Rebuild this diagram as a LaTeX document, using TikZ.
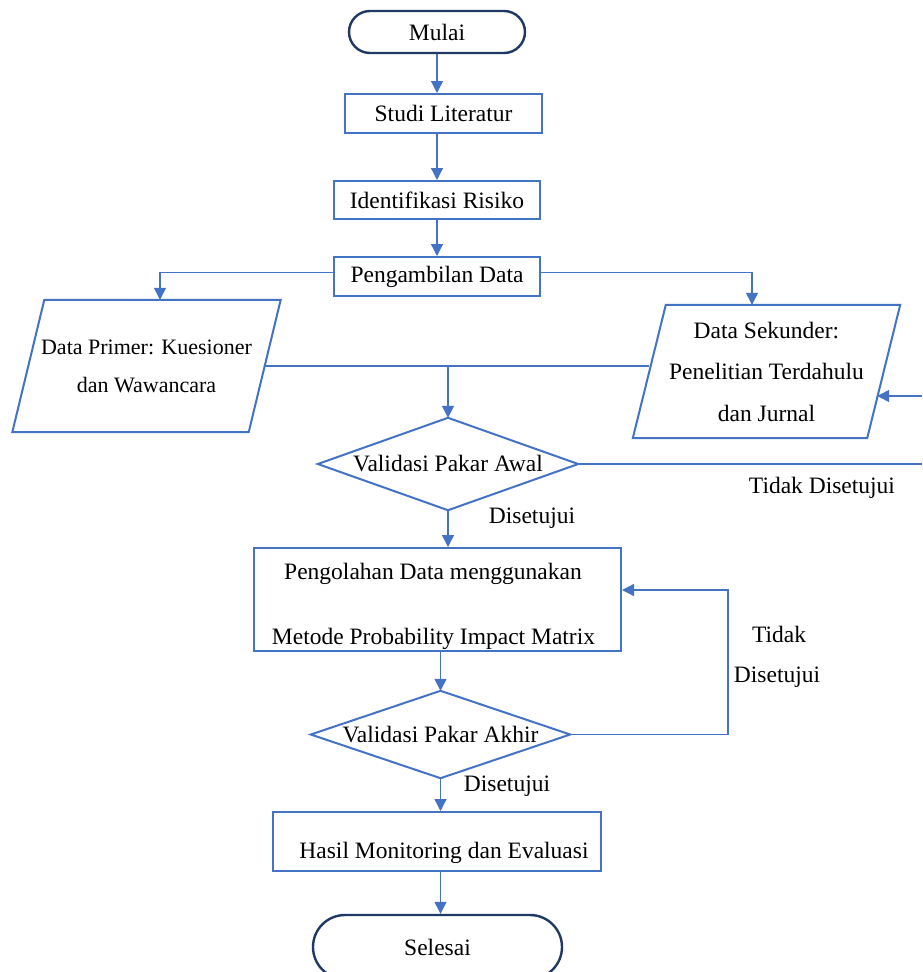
\documentclass[tikz,border=0pt]{standalone}
\usepackage{fontspec}
\setmainfont{Liberation Serif}
\usetikzlibrary{arrows.meta,calc}
\definecolor{lineblue}{HTML}{4472C4}
\definecolor{navy}{HTML}{203864}
\begin{document}
\begin{tikzpicture}[x=1pt,y=-1pt,
  every node/.style={font=\fontsize{23.5}{28}\selectfont, text=black, inner sep=0pt},
  procbox/.style={draw=lineblue, line width=2pt, rectangle},
  termbox/.style={draw=navy, line width=2.4pt, rectangle},
  hidden/.style={rectangle},
  shapeline/.style={draw=lineblue, line width=2pt, line join=miter},
  conn/.style={draw=lineblue, line width=1.3pt},
  arr/.style={conn, -{Triangle[length=12pt,width=12pt]}}]
\useasboundingbox (0,0) rectangle (922,972);
\fill[white] (0,0) rectangle (922,972);

% nodes
\node[termbox, rounded corners=21pt, minimum width=176pt, minimum height=42pt] (mulai) at (437,32) {Mulai};
\node[procbox, minimum width=197pt, minimum height=39pt] (studi) at (443.5,113.5) {Studi Literatur};
\node[procbox, minimum width=206pt, minimum height=38pt] (ident) at (437,200) {Identifikasi Risiko};
\node[procbox, minimum width=206pt, minimum height=39pt] (peng) at (437,276.5) {Pengambilan Data};

\node[hidden, minimum width=236pt, minimum height=132pt, align=center, font=\fontsize{22}{38}\selectfont] (dp) at (146.5,366) {Data Primer: Kuesioner\\dan Wawancara};
\draw[shapeline] ([xshift=16pt]dp.north west) -- ([xshift=16pt]dp.north east) -- ([xshift=-16pt]dp.south east) -- ([xshift=-16pt]dp.south west) -- cycle;

\node[hidden, minimum width=234pt, minimum height=133pt, align=center, font=\fontsize{23.5}{41.5}\selectfont] (ds) at (766.5,371.5) {Data Sekunder:\\Penelitian Terdahulu\\dan Jurnal};
\draw[shapeline] ([xshift=16.5pt]ds.north west) -- ([xshift=16.5pt]ds.north east) -- ([xshift=-16.5pt]ds.south east) -- ([xshift=-16.5pt]ds.south west) -- cycle;

\node[hidden, minimum width=260pt, minimum height=92pt] (v1) at (448,464) {Validasi Pakar Awal};
\draw[shapeline] (v1.north) -- (v1.east) -- (v1.south) -- (v1.west) -- cycle;

\node[procbox, minimum width=367pt, minimum height=103pt] (pd) at (437.5,599.5) {};
\node (pdt1) at (433,574) {Pengolahan Data menggunakan};
\node (pdt2) at (433.5,639) {Metode Probability Impact Matrix};

\node[hidden, minimum width=259pt, minimum height=87pt] (v2) at (440.5,734.5) {Validasi Pakar Akhir};
\draw[shapeline] (v2.north) -- (v2.east) -- (v2.south) -- (v2.west) -- cycle;

\node[procbox, minimum width=328pt, minimum height=59pt] (hasil) at (437,841.5) {};
\node (hasilt) at (444,853) {Hasil Monitoring dan Evaluasi};

\node[termbox, rounded corners=32pt, minimum width=249pt, minimum height=64pt] (sel) at (437.5,947) {Selesai};

% connectors
\draw[arr] (mulai.south) -- (mulai.south |- studi.north);
\draw[arr] (ident.north |- studi.south) -- (ident.north);
\draw[arr] (ident.south) -- (peng.north);
\draw[arr] ([yshift=4pt]peng.west) -| ([xshift=13.5pt]dp.north);
\draw[arr] ([yshift=4pt]peng.east) -| ([xshift=-14.5pt]ds.north);
\draw[conn] (dp.east) -- (dp.east -| ds.west);
\draw[arr] (v1.north |- dp.east) -- (v1.north);
\coordinate (edgea) at (922,464);
\draw[conn] (v1.east) -- (edgea);
\coordinate (edgeb) at (922,396);
\draw[arr] (edgeb) -- ([xshift=-6.5pt]edgeb -| ds.east);
\draw[arr] (v1.south) -- (v1.south |- pd.north);
\draw[arr] (v2.north |- pd.south) -- (v2.north);
\coordinate (loopc) at (728,734.5);
\draw[arr] (v2.east) -- (loopc) |- ([yshift=9.5pt]pd.east);
\draw[arr] (v2.south) -- (v2.south |- hasil.north);
\draw[arr] (v2.south |- hasil.south) -- (v2.south |- sel.north);

% labels
\node (l1) at (532,518) {Disetujui};
\node (l2) at (822,488) {Tidak Disetujui};
\node (l3) at (779,634) {Tidak};
\node (l4) at (777,677) {Disetujui};
\node (l5) at (507,786) {Disetujui};
\end{tikzpicture}
\end{document}
